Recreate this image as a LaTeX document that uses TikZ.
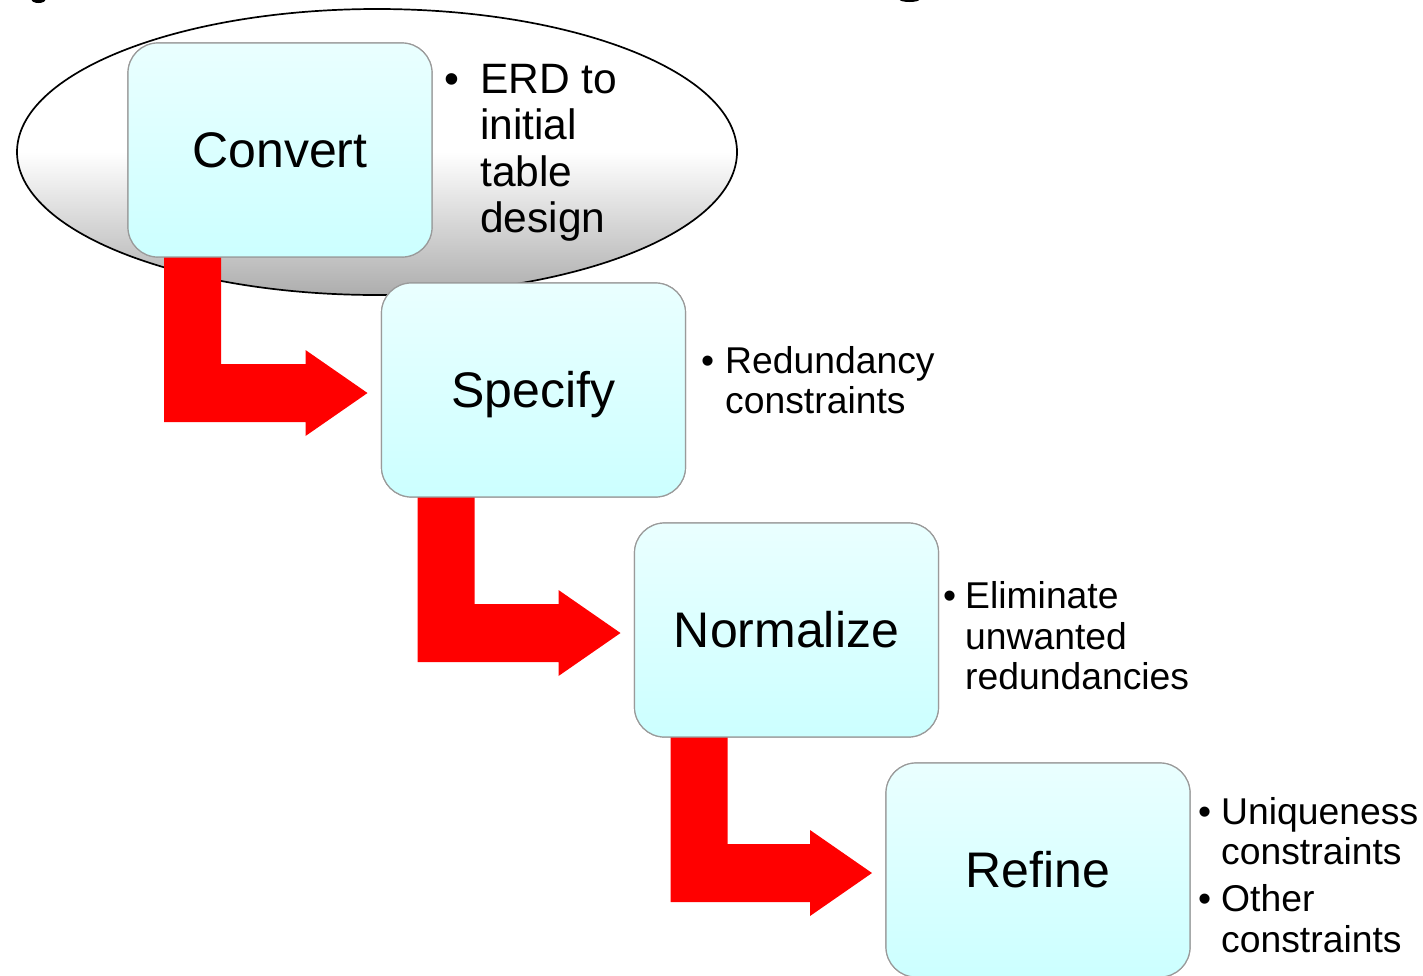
\documentclass[tikz,border=0pt]{standalone}
\usepackage{fontspec}
\setmainfont{Liberation Sans}
\usetikzlibrary{calc}

\definecolor{boxtop}{HTML}{EAFFFF}
\definecolor{boxbot}{HTML}{CCFFFF}
\definecolor{boxline}{HTML}{9A9A9A}

\tikzset{
  stage/.style={rounded corners=30pt, draw=boxline, line width=1.2pt,
    top color=boxtop, bottom color=boxbot,
    minimum width=304pt, minimum height=214pt, inner sep=0pt, outer sep=0pt,
    text height=35pt, text depth=1pt, font=\fontsize{50}{60}\selectfont},
  flow/.style={fill=red, draw=none},
  bignote/.style={anchor=base west, inner sep=0pt, font=\fontsize{42.5}{46}\selectfont},
  note/.style={anchor=base west, inner sep=0pt, font=\fontsize{37.3}{40}\selectfont},
}

% L-shaped red arrow from the bottom of one stage to the left side of the next
\newcommand\bentarrow[2]{%
  \fill[flow] let \p1=(#1.south west), \p2=(#2.west) in
    (\x1+36pt,\y1) -- (\x1+93pt,\y1) -- (\x1+93pt,\y2+26pt)
    -- (\x2-76pt,\y2+26pt) -- (\x2-76pt,\y2+40pt) -- (\x2-14pt,\y2-3pt)
    -- (\x2-76pt,\y2-46pt) -- (\x2-76pt,\y2-32pt) -- (\x1+36pt,\y2-32pt) -- cycle;}

\begin{document}
\begin{tikzpicture}[x=1pt,y=1pt]
\useasboundingbox (0,0) rectangle (1423,-975);

% edges of lettering cut off at the top
\fill (38.5,0.5) ellipse [x radius=7, y radius=3.5];
\fill (909.5,0.5) ellipse [x radius=10, y radius=2.5];

% shaded ellipse around the first stage: white upper half, grey towards the bottom
\draw[black, line width=1.7pt, top color=white, bottom color=black!32, middle color=white]
  (377,-152) ellipse [x radius=360, y radius=143];

% stages
\node[stage] (convert)   at (280,-150)   {};
\node[stage] (specify)   at (533.5,-390) {};
\node[stage] (normalize) at (786.5,-630) {};
\node[stage] (refine)    at (1038,-870)  {};

% arrows
\bentarrow{convert}{specify}
\bentarrow{specify}{normalize}
\bentarrow{normalize}{refine}

% redraw stages above the arrows
\node[stage] at (convert)   {Convert};
\node[stage] at (specify)   {Specify};
\node[stage] at (normalize) {Normalize};
\node[stage] at (refine)    {Refine};

% notes
\node[bignote] (b1) at (444,-93) {•};
\node[bignote] (n1a) at (480,-93)  {ERD to};
\node[bignote] (n1b) at (480,-139.5) {initial};
\node[bignote] (n1c) at (480,-186) {table};
\node[bignote] (n1d) at (480,-232) {design};

\node[note] (b2) at (701,-373) {•};
\node[note] (n2a) at (725,-373) {Redundancy};
\node[note] (n2b) at (725,-413) {constraints};

\node[note] (b3) at (943,-608) {•};
\node[note] (n3a) at (965,-608) {Eliminate};
\node[note] (n3b) at (965,-649) {unwanted};
\node[note] (n3c) at (965,-689) {redundancies};

\node[note] (b4) at (1198,-824) {•};
\node[note] (n4a) at (1221,-824) {Uniqueness};
\node[note] (n4b) at (1221,-864) {constraints};
\node[note] (b5) at (1198,-911) {•};
\node[note] (n4c) at (1221,-911) {Other};
\node[note] (n4d) at (1221,-952) {constraints};
\end{tikzpicture}
\end{document}
